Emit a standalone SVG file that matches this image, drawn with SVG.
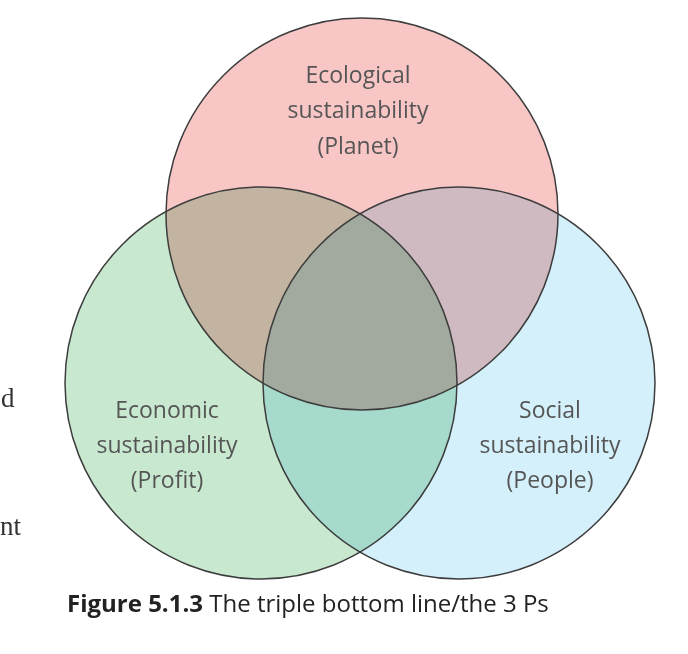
<svg xmlns="http://www.w3.org/2000/svg" width="688" height="654" viewBox="0 0 688 654">
<style>
.lbl{font-family:"Open Sans","Noto Sans",sans-serif;font-size:23px;fill:#555;text-anchor:middle}
.ring{fill:none;stroke:#3d3d3d;stroke-width:1.5}
.fill{mix-blend-mode:multiply}
.cap{font-family:"Open Sans","Liberation Sans",sans-serif;font-size:24px;fill:#222}
.side{font-family:"Liberation Serif",serif;font-size:27px;fill:#333}
</style>
<rect width="688" height="654" fill="#fff"/>
<g style="isolation:isolate">
<circle class="fill" cx="362" cy="214" r="196" fill="#f9c6c6"/>
<circle class="fill" cx="261" cy="383" r="196" fill="#c8e8d0"/>
<circle class="fill" cx="459" cy="383" r="196" fill="#d4f0fa"/>
</g>
<g id="planet">
<circle class="ring" cx="362" cy="214" r="196"/>
<text class="lbl" x="358" y="83">Ecological</text>
<text class="lbl" x="358" y="118">sustainability</text>
<text class="lbl" x="358" y="154">(Planet)</text>
</g>
<g id="profit">
<circle class="ring" cx="261" cy="383" r="196"/>
<text class="lbl" x="167" y="418">Economic</text>
<text class="lbl" x="167" y="453">sustainability</text>
<text class="lbl" x="167" y="488">(Profit)</text>
</g>
<g id="people">
<circle class="ring" cx="459" cy="383" r="196"/>
<text class="lbl" x="550" y="418">Social</text>
<text class="lbl" x="550" y="453">sustainability</text>
<text class="lbl" x="550" y="488">(People)</text>
</g>
<g id="connectors"></g>
<text class="side" x="1" y="407">d</text>
<text class="side" x="0" y="535">nt</text>
<text class="cap" x="67" y="612"><tspan font-weight="bold">Figure 5.1.3</tspan> The triple bottom line/the 3 Ps</text>
</svg>
